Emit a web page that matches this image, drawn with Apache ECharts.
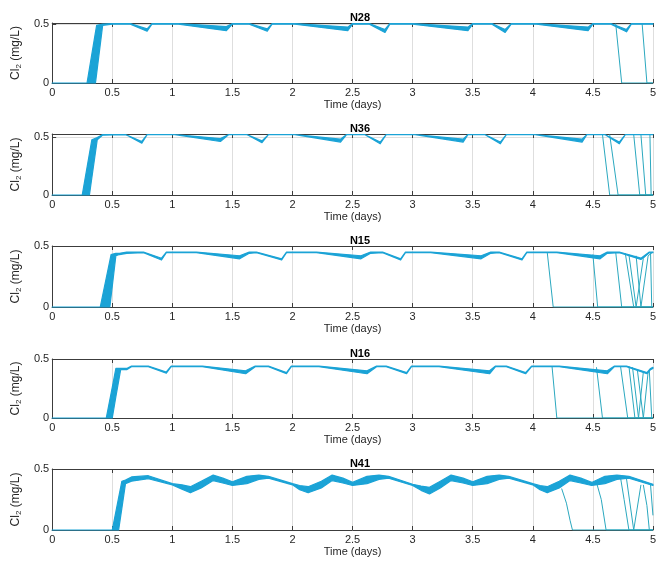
<!DOCTYPE html>
<html><head><meta charset="utf-8">
<script src="https://cdn.jsdelivr.net/npm/echarts@6/dist/echarts.min.js"></script>
<style>html,body{margin:0;padding:0;background:#fff}#c{width:659px;height:567px}</style>
</head><body><div id="c"></div>
<script>
// ---------- data ----------
const nodeNames = ['N28', 'N36', 'N15', 'N16', 'N41'];
const yMaxes = [0.51, 0.53, 0.5, 0.5, 0.5];
const xTickStep = 0.5;
const yTickStep = 0.5;

// N28 ensemble band (time, upper edge, lower edge)
const t28 = [0, 0.29, 0.36, 0.37, 0.42, 0.50, 0.65, 0.79, 0.83, 1.05, 1.45, 1.50, 1.64, 1.79, 1.83, 2.02, 2.46, 2.50, 2.64, 2.77, 2.81, 3.00, 3.46, 3.50, 3.66, 3.77, 3.82, 4.03, 4.46, 4.50, 4.65, 4.78, 4.82, 5.00];
const hi28 = [0, 0, 0.43, 0.49, 0.50, 0.505, 0.505, 0.46, 0.505, 0.505, 0.48, 0.505, 0.505, 0.46, 0.505, 0.505, 0.475, 0.505, 0.505, 0.455, 0.505, 0.505, 0.475, 0.505, 0.505, 0.455, 0.505, 0.505, 0.475, 0.505, 0.505, 0.455, 0.505, 0.505];
const lo28 = [0, 0, 0, 0.08, 0.49, 0.50, 0.50, 0.44, 0.50, 0.50, 0.445, 0.50, 0.50, 0.44, 0.50, 0.50, 0.445, 0.50, 0.50, 0.43, 0.50, 0.50, 0.445, 0.50, 0.50, 0.43, 0.50, 0.50, 0.445, 0.50, 0.50, 0.435, 0.50, 0.50];
const drops28 = [
  [[4.69, 0.505], [4.74, 0], [5, 0]],
  [[4.91, 0.505], [4.95, 0], [5, 0]]
];

// N36
const t36 = [0, 0.25, 0.31, 0.33, 0.375, 0.42, 0.61, 0.746, 0.79, 1.02, 1.40, 1.47, 1.62, 1.746, 1.80, 2.02, 2.40, 2.45, 2.60, 2.73, 2.78, 3.02, 3.42, 3.46, 3.60, 3.73, 3.78, 4.02, 4.41, 4.45, 4.60, 4.72, 4.77, 5.0];
const hi36 = [0, 0, 0.36, 0.48, 0.50, 0.525, 0.525, 0.465, 0.525, 0.525, 0.49, 0.525, 0.525, 0.47, 0.525, 0.525, 0.485, 0.525, 0.525, 0.46, 0.525, 0.525, 0.485, 0.525, 0.525, 0.46, 0.525, 0.525, 0.485, 0.525, 0.525, 0.46, 0.525, 0.525];
const lo36 = [0, 0, 0, 0.15, 0.48, 0.52, 0.525, 0.45, 0.525, 0.525, 0.465, 0.525, 0.525, 0.455, 0.525, 0.525, 0.46, 0.525, 0.525, 0.445, 0.525, 0.525, 0.46, 0.525, 0.525, 0.445, 0.525, 0.525, 0.46, 0.525, 0.525, 0.445, 0.525, 0.525];
const drops36 = [
  [[4.58, 0.525], [4.64, 0], [5, 0]],
  [[4.64, 0.525], [4.71, 0], [5, 0]],
  [[4.84, 0.525], [4.89, 0], [5, 0]],
  [[4.90, 0.525], [4.94, 0], [5, 0]],
  [[4.975, 0.525], [4.985, 0], [5, 0]]
];

// N15
const t15 = [0, 0.40, 0.48, 0.49, 0.53, 0.56, 0.62, 0.76, 0.91, 0.95, 1.20, 1.56, 1.64, 1.70, 1.91, 1.95, 2.20, 2.57, 2.65, 2.75, 2.90, 2.94, 3.15, 3.57, 3.65, 3.72, 3.91, 3.95, 4.20, 4.56, 4.62, 4.72, 4.90, 4.97, 5.0];
const hi15 = [0, 0, 0.38, 0.43, 0.44, 0.44, 0.45, 0.45, 0.40, 0.45, 0.45, 0.42, 0.45, 0.45, 0.395, 0.45, 0.45, 0.42, 0.45, 0.45, 0.395, 0.45, 0.45, 0.42, 0.45, 0.45, 0.395, 0.45, 0.45, 0.42, 0.45, 0.45, 0.40, 0.45, 0.45];
const lo15 = [0, 0, 0, 0.086, 0.42, 0.43, 0.44, 0.445, 0.385, 0.445, 0.445, 0.395, 0.44, 0.445, 0.385, 0.445, 0.445, 0.395, 0.44, 0.445, 0.385, 0.445, 0.445, 0.395, 0.44, 0.445, 0.385, 0.445, 0.445, 0.395, 0.44, 0.445, 0.39, 0.445, 0.445];
const drops15 = [
  [[4.12, 0.45], [4.17, 0], [5, 0]],
  [[4.50, 0.43], [4.54, 0], [5, 0]],
  [[4.69, 0.45], [4.74, 0], [5, 0]],
  [[4.77, 0.44], [4.84, 0], [5, 0]],
  [[4.80, 0.43], [4.86, 0], [4.92, 0.40], [4.97, 0.45]],
  [[4.86, 0.42], [4.90, 0], [4.96, 0.42], [5.0, 0.45]],
  [[4.98, 0.45], [4.99, 0]]
];

// N16
const t16 = [0, 0.45, 0.50, 0.53, 0.57, 0.62, 0.66, 0.80, 0.95, 0.99, 1.25, 1.61, 1.69, 1.80, 1.95, 1.99, 2.22, 2.62, 2.70, 2.78, 2.95, 2.99, 3.22, 3.64, 3.69, 3.78, 3.94, 3.99, 4.22, 4.62, 4.68, 4.78, 4.95, 4.98, 5.0];
const hi16 = [0, 0, 0.26, 0.42, 0.42, 0.42, 0.44, 0.44, 0.39, 0.44, 0.44, 0.40, 0.44, 0.44, 0.385, 0.44, 0.44, 0.40, 0.44, 0.44, 0.385, 0.44, 0.44, 0.40, 0.44, 0.44, 0.385, 0.44, 0.44, 0.40, 0.44, 0.44, 0.385, 0.42, 0.43];
const lo16 = [0, 0, 0, 0.18, 0.41, 0.41, 0.435, 0.435, 0.38, 0.435, 0.435, 0.375, 0.435, 0.435, 0.375, 0.435, 0.435, 0.375, 0.435, 0.435, 0.375, 0.435, 0.435, 0.375, 0.435, 0.435, 0.375, 0.435, 0.435, 0.375, 0.435, 0.435, 0.375, 0.41, 0.42];
const drops16 = [
  [[4.16, 0.44], [4.20, 0], [5, 0]],
  [[4.53, 0.43], [4.58, 0], [5, 0]],
  [[4.73, 0.44], [4.79, 0], [5, 0]],
  [[4.80, 0.44], [4.85, 0], [5, 0]],
  [[4.83, 0.43], [4.88, 0], [4.92, 0.39]],
  [[4.87, 0.41], [4.92, 0], [4.96, 0.39]],
  [[4.97, 0.40], [4.99, 0]]
];

// N41
const t41 = [0, 0.50, 0.553, 0.58, 0.61, 0.66, 0.80,
  1.00, 1.08, 1.15, 1.24, 1.34, 1.42, 1.50, 1.62, 1.72, 1.80,
  2.00, 2.06, 2.13, 2.24, 2.33, 2.42, 2.50, 2.62, 2.72, 2.80,
  3.00, 3.07, 3.14, 3.23, 3.32, 3.42, 3.50, 3.62, 3.72, 3.80,
  4.00, 4.06, 4.12, 4.22, 4.31, 4.40, 4.49, 4.60, 4.70, 4.80,
  5.00];
const hi41 = [0, 0, 0.265, 0.40, 0.41, 0.435, 0.445,
  0.38, 0.37, 0.355, 0.40, 0.45, 0.425, 0.395, 0.44, 0.45, 0.44,
  0.38, 0.365, 0.355, 0.40, 0.45, 0.425, 0.39, 0.44, 0.45, 0.44,
  0.375, 0.36, 0.35, 0.40, 0.45, 0.425, 0.395, 0.44, 0.45, 0.44,
  0.38, 0.365, 0.355, 0.40, 0.45, 0.425, 0.39, 0.44, 0.45, 0.44,
  0.375];
const lo41 = [0, 0, 0, 0.18, 0.38, 0.40, 0.42,
  0.37, 0.335, 0.305, 0.345, 0.405, 0.385, 0.365, 0.38, 0.415, 0.425,
  0.37, 0.33, 0.305, 0.345, 0.405, 0.385, 0.365, 0.38, 0.415, 0.425,
  0.365, 0.325, 0.295, 0.345, 0.405, 0.385, 0.365, 0.38, 0.415, 0.425,
  0.37, 0.33, 0.305, 0.345, 0.405, 0.385, 0.365, 0.38, 0.415, 0.425,
  0.365];
const drops41 = [
  [[4.24, 0.34], [4.28, 0.22], [4.31, 0.08], [4.33, 0], [5, 0]],
  [[4.53, 0.39], [4.57, 0.25], [4.61, 0], [5, 0]],
  [[4.73, 0.43], [4.76, 0.25], [4.80, 0], [5, 0]],
  [[4.78, 0.42], [4.84, 0], [4.90, 0.37]],
  [[4.92, 0.37], [4.95, 0.20], [4.97, 0], [5, 0]],
  [[4.98, 0.37], [5.0, 0.12]]
];

// ---------- build ----------
const bands = [[t28, hi28, lo28], [t36, hi36, lo36], [t15, hi15, lo15], [t16, hi16, lo16], [t41, hi41, lo41]];
const drops = [drops28, drops36, drops15, drops16, drops41];

const gridTops = [23, 134, 246, 359, 469];
const gridHeights = [60, 61, 61, 59, 61];
const FONT = '"Liberation Sans", Arial, Helvetica, sans-serif';
const AXIS_COLOR = '#3c3c3c';
const TEXT_COLOR = '#262626';
const GRID_COLOR = '#dedede';
const BAND_COLOR = '#1ba3d6';
const DROP_COLOR = '#2ba8bf';

const grids = [], xAxes = [], yAxes = [], titles = [], series = [];
for (let i = 0; i < 5; i++) {
  grids.push({left: 51, right: 0, top: gridTops[i], height: gridHeights[i], containLabel: false});
  titles.push({text: nodeNames[i], left: 355, top: gridTops[i] - 16, textAlign: 'center',
    textStyle: {fontFamily: FONT, fontSize: 11, fontWeight: 'bold', color: '#000'}});
  xAxes.push({
    gridIndex: i, type: 'value', min: 0, max: 5, interval: xTickStep,
    axisLine: {show: true, lineStyle: {color: AXIS_COLOR, width: 1}},
    axisTick: {show: true, inside: true, length: 4, lineStyle: {color: AXIS_COLOR}},
    axisLabel: {margin: 4, fontFamily: FONT, fontSize: 11, color: TEXT_COLOR},
    splitLine: {show: true, lineStyle: {color: GRID_COLOR, width: 1}},
    name: 'Time (days)', nameLocation: 'middle', nameGap: 16,
    nameTextStyle: {fontFamily: FONT, fontSize: 11, color: TEXT_COLOR}
  });
  xAxes.push({
    gridIndex: i, type: 'value', position: 'top', min: 0, max: 5, interval: xTickStep,
    axisLine: {show: true, lineStyle: {color: AXIS_COLOR, width: 1}},
    axisTick: {show: true, inside: true, length: 4, lineStyle: {color: AXIS_COLOR}},
    axisLabel: {show: false}, splitLine: {show: false}
  });
  yAxes.push({
    gridIndex: i, type: 'value', min: 0, max: yMaxes[i], interval: yTickStep,
    axisLine: {show: true, lineStyle: {color: AXIS_COLOR, width: 1}},
    axisTick: {show: true, inside: true, length: 4, lineStyle: {color: AXIS_COLOR}},
    axisLabel: {margin: 3, fontFamily: FONT, fontSize: 11, color: TEXT_COLOR,
      formatter: v => (Math.abs(v) < 1e-9 ? '0' : (Math.abs(v - 0.5) < 1e-9 ? '0.5' : ''))},
    splitLine: {show: true, lineStyle: {color: GRID_COLOR, width: 1}},
    name: 'Cl{s|2} (mg/L)', nameLocation: 'middle', nameGap: 23, nameRotate: 90,
    nameTextStyle: {fontFamily: FONT, fontSize: 12, color: TEXT_COLOR, lineHeight: 15,
      rich: {s: {fontFamily: FONT, fontSize: 8, color: TEXT_COLOR, lineHeight: 8, verticalAlign: 'bottom'}}}
  });

  const [t, hi, lo] = bands[i];
  // ensemble envelope: polygon between upper and lower edges, mapped through the axes
  series.push({
    type: 'custom', xAxisIndex: 2 * i, yAxisIndex: i, z: 3,
    data: t.map((x, k) => [x, lo[k], hi[k]]),
    encode: {x: 0, y: [1, 2]},
    renderItem: (params, api) => {
      if (params.dataIndex !== 0) return null;
      const pts = [];
      for (let k = 0; k < t.length; k++) pts.push(api.coord([t[k], hi[k]]));
      for (let k = t.length - 1; k >= 0; k--) pts.push(api.coord([t[k], lo[k]]));
      return {type: 'polygon', shape: {points: pts},
        style: {fill: BAND_COLOR, stroke: BAND_COLOR, lineWidth: 1.2, lineJoin: 'round'}};
    }
  });
  drops[i].forEach(d => {
    series.push({
      type: 'line', xAxisIndex: 2 * i, yAxisIndex: i, symbol: 'none',
      data: d, lineStyle: {color: DROP_COLOR, width: 1}, z: 2
    });
  });
}

const chart = echarts.init(document.getElementById('c'), null, {renderer: 'canvas'});
chart.setOption({
  animation: false,
  backgroundColor: '#fff',
  title: titles, grid: grids, xAxis: xAxes, yAxis: yAxes, series: series
});
</script>
</body></html>
